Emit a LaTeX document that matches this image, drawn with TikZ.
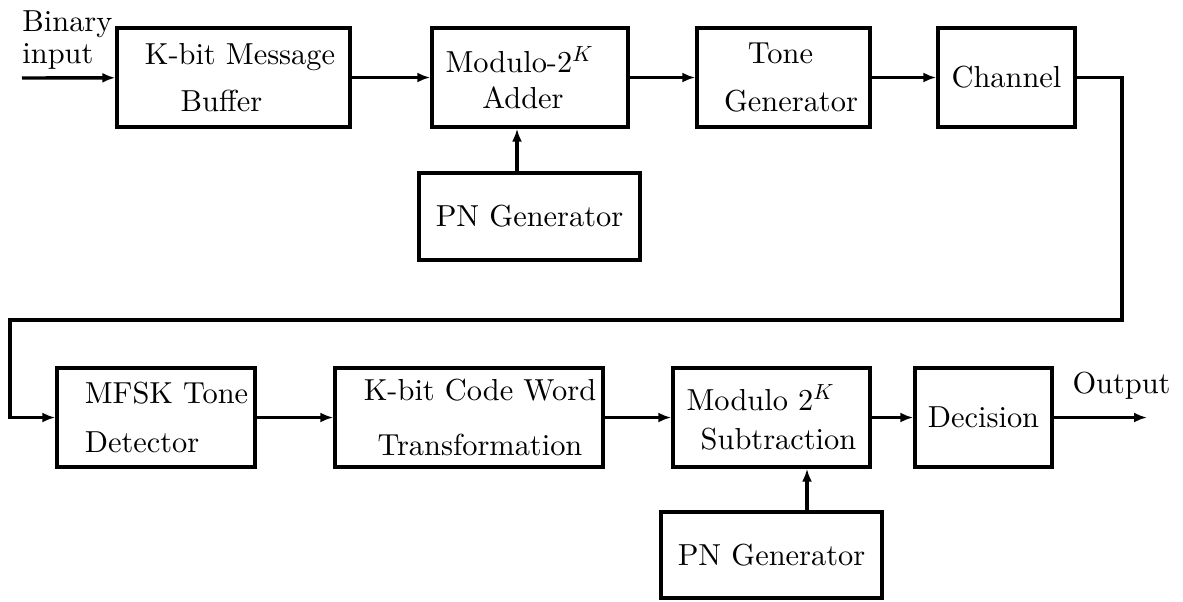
\documentclass[tikz,border=0pt]{standalone}
\usepackage{fontspec}
\setmainfont{lmroman10-regular.otf}
\usetikzlibrary{arrows.meta}
\tikzset{
  blk/.style={draw,line width=1.7pt,inner sep=2pt,align=center,
    font=\fontsize{15.2}{18}\selectfont},
  lbl/.style={inner sep=0pt,align=left,font=\fontsize{15.2}{18}\selectfont},
  arr/.style={line width=1.7pt,-{Latex[length=6.5pt,width=5pt]}},
}

\begin{document}
\begin{tikzpicture}[x=0.5pt,y=-0.5pt]
  \useasboundingbox (0,0) rectangle (1183,601);
  % transmitter row
  \node[blk,minimum width=116.5pt,minimum height=49.5pt](buf)at(233.5,77.5){\hspace*{6.5pt}K-bit Message\\[5.5pt]Buffer\hspace*{12pt}};
  \node[blk,minimum width=98pt,minimum height=49.5pt](add)at(530,77.5){Modulo-2$^K$\hspace*{10.5pt}\\Adder\hspace*{7pt}};
  \node[blk,minimum width=86.5pt,minimum height=49.5pt](tone)at(783.5,77.5){Tone\hspace*{3pt}\\[6pt]\hspace*{7.5pt}Generator};
  \node[blk,minimum width=68.5pt,minimum height=49.5pt](chan)at(1006.5,77.5){Channel};
  \node[blk,minimum width=110.5pt,minimum height=43.5pt](pnA)at(529.5,216.5){PN Generator};
  \node[lbl,anchor=north west](bin)at(22,10){Binary\\[-2pt]input};
  \coordinate(src)at(22,78);
  \coordinate(tapA)at(517,0);
  \draw[arr](src)--(buf);
  \draw[arr](buf)--(add);
  \draw[arr](add)--(tone);
  \draw[arr](tone)--(chan);
  \draw[arr](pnA.north-|tapA)--(add.south-|tapA);
  % receiver row
  \node[blk,align=left,minimum width=99pt,minimum height=49.5pt](mfsk)at(156,417.5){\hspace*{10.5pt}MFSK Tone\\[6.5pt]\hspace*{10.5pt}Detector};
  \node[blk,minimum width=134pt,minimum height=49.5pt](cw)at(469,417.5){\hspace*{11pt}K-bit Code Word\\[9.5pt]\hspace*{11pt}Transformation};
  \node[blk,minimum width=98.5pt,minimum height=49.5pt](sub)at(771.5,417.5){Modulo 2$^K$\hspace*{11pt}\\[1.5pt]\hspace*{7pt}Subtraction};
  \node[blk,minimum width=68.5pt,minimum height=49.5pt](dec)at(983.5,417.5){Decision};
  \node[blk,minimum width=110.5pt,minimum height=43pt](pnB)at(771.5,555){PN Generator};
  \node[lbl,anchor=base](outl)at(1121.5,393){Output};
  \coordinate(rt)at(1122,320);
  \coordinate(lt)at(10,320);
  \coordinate(sink)at(1147,417.5);
  \coordinate(tapB)at(807,0);
  \draw[arr](chan.east)-|(rt)--(lt)|-(mfsk.west);
  \draw[arr](mfsk)--(cw);
  \draw[arr](cw)--(sub);
  \draw[arr](sub)--(dec);
  \draw[arr](dec)--(sink);
  \draw[arr](pnB.north-|tapB)--(sub.south-|tapB);
\end{tikzpicture}
\end{document}
